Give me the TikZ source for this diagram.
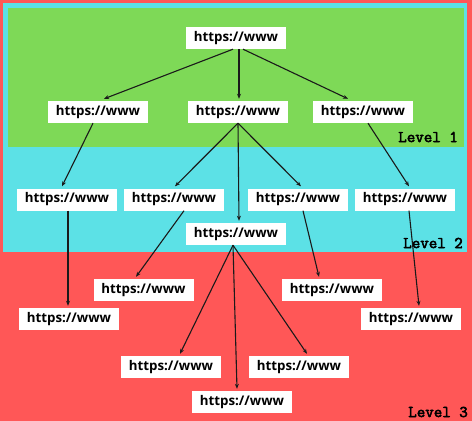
\documentclass[tikz,border=0pt]{standalone}
\usepackage{fontspec}
\newfontfamily\nodefont{Open Sans}
\newfontfamily\lvlfont{Latin Modern Mono}[FakeBold=3]
\usetikzlibrary{arrows.meta}
\definecolor{bgred}{HTML}{FF5757}
\definecolor{bgcyan}{HTML}{5CE1E6}
\definecolor{bggreen}{HTML}{7ED957}
\definecolor{arrowc}{HTML}{1A1A1A}
\tikzset{
  url/.style={fill=white, minimum width=100pt, minimum height=22pt, inner sep=0pt,
    font=\nodefont\bfseries\fontsize{13.3}{15}\selectfont},
  lvl/.style={anchor=east, inner sep=0pt, font=\lvlfont\fontsize{16.5}{18}\selectfont},
  link/.style={draw=arrowc, line width=1.1pt, -{Stealth[length=5pt,width=4pt]}}
}
\begin{document}
\begin{tikzpicture}[x=1pt,y=-1pt]
\useasboundingbox (0,0) rectangle (472,421);
\fill[bgred] (0,0) rectangle (472,421);
\fill[bgcyan] (3,3) rectangle (467,252);
\fill[bggreen] (8,8) rectangle (464,147);

\node[url] (root) at (236,38) {https://www};
\node[url] (l1a) at (98,112) {https://www};
\node[url] (l1b) at (238,112) {https://www};
\node[url] (l1c) at (363,112) {https://www};

\node[url] (a) at (67,199.5) {https://www};
\node[url] (b) at (174,199.5) {https://www};
\node[url] (c) at (298,199.5) {https://www};
\node[url] (d) at (405,199.5) {https://www};
\node[url] (e) at (236,234) {https://www};

\node[url] (f) at (143.5,290) {https://www};
\node[url] (g) at (69,319) {https://www};
\node[url] (h) at (332,290) {https://www};
\node[url] (i) at (411,319) {https://www};
\node[url] (j) at (171,367) {https://www};
\node[url] (k) at (299,367) {https://www};
\node[url] (l) at (242,402) {https://www};

\node[lvl] (lv1) at (458,137) {Level 1};
\node[lvl] (lv2) at (463,243) {Level 2};
\node[lvl] (lv3) at (468,412) {Level 3};

\draw[link] ([xshift=-3pt]root.south) -- ([xshift=6pt,yshift=2pt]l1a.north);
\draw[link] ([xshift=3pt]root.south) -- ([xshift=1pt,yshift=2pt]l1b.north);
\draw[link] ([xshift=7pt]root.south) -- ([xshift=-15pt,yshift=2pt]l1c.north);

\draw[link] ([xshift=-5pt]l1a.south) -- ([xshift=-5pt,yshift=2pt]a.north);
\draw[link] (l1b.south) -- ([xshift=1pt,yshift=2pt]b.north);
\draw[link] (l1b.south) -- ([xshift=3pt,yshift=2pt]e.north);
\draw[link] (l1b.south) -- ([xshift=3pt,yshift=2pt]c.north);
\draw[link] ([xshift=5pt]l1c.south) -- ([xshift=4pt,yshift=2pt]d.north);

\draw[link] ([xshift=1pt]a.south) -- ([xshift=-1pt,yshift=2pt]g.north);
\draw[link] ([xshift=10pt]b.south) -- ([xshift=-7.5pt,yshift=2pt]f.north);
\draw[link] ([xshift=5pt]c.south) -- ([xshift=-13pt,yshift=2pt]h.north);
\draw[link] ([xshift=4pt]d.south) -- ([xshift=8pt,yshift=2pt]i.north);

\draw[link] ([xshift=-3pt]e.south) -- ([xshift=9pt,yshift=2pt]j.north);
\draw[link] ([xshift=-3pt]e.south) -- ([xshift=-5pt,yshift=2pt]l.north);
\draw[link] ([xshift=-3pt]e.south) -- ([xshift=8pt,yshift=2pt]k.north);
\end{tikzpicture}
\end{document}
